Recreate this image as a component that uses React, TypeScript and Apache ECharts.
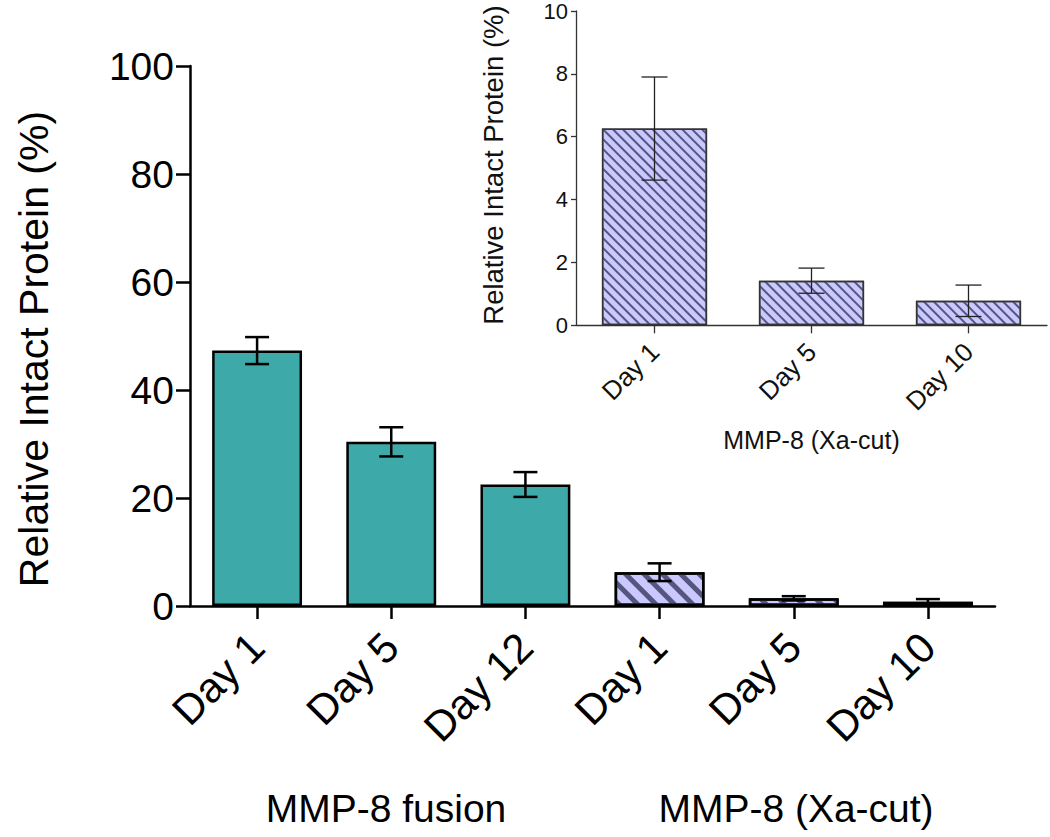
import React, { useEffect, useRef } from "react";
import * as echarts from "echarts";

const mainCategories = ["Day 1", "Day 5", "Day 12", "Day 1", "Day 5", "Day 10"];
const fusionValues = [47.3, 30.4, 22.5];
const fusionErrors = [2.5, 2.7, 2.3];
const xaCategories = ["Day 1", "Day 5", "Day 10"];
const xaValues = [6.26, 1.42, 0.78];
const xaErrors = [1.64, 0.4, 0.5];
const mainYTicks = { min: 0, max: 100, interval: 20 };
const insetYTicks = { min: 0, max: 10, interval: 2 };
const groupLabels = ["MMP-8 fusion", "MMP-8 (Xa-cut)"];
const yTitle = "Relative Intact Protein (%)";
const insetXTitle = "MMP-8 (Xa-cut)";

const FONT = "'Liberation Sans', Arial, Helvetica, sans-serif";
const TEAL = "#3ea9a9";
const LAV = "#c9c9ff";
const STRIPE = "#55557f";

function errorRenderer(lineWidth: number, capHalf: number, color: string) {
  return (params: any, api: any) => {
    const x = api.value(0);
    const v = api.value(1);
    const e = api.value(2);
    const top = api.coord([x, v + e]);
    const bot = api.coord([x, Math.max(0, v - e)]);
    const style = { stroke: color, lineWidth };
    return {
      type: "group",
      children: [
        { type: "line", shape: { x1: top[0], y1: top[1], x2: bot[0], y2: bot[1] }, style },
        { type: "line", shape: { x1: top[0] - capHalf, y1: top[1], x2: top[0] + capHalf, y2: top[1] }, style },
        { type: "line", shape: { x1: bot[0] - capHalf, y1: bot[1], x2: bot[0] + capHalf, y2: bot[1] }, style },
      ],
    };
  };
}

export default function App() {
  const ref = useRef<HTMLDivElement>(null);
  useEffect(() => {
    if (!ref.current) return;
    const chart = echarts.init(ref.current, null, { renderer: "svg" });

    const allValues = [...fusionValues, ...xaValues];
    const allErrors = [...fusionErrors, ...xaErrors];

    const mainBarData = allValues.map((v, i) =>
      i < fusionValues.length
        ? { value: v, itemStyle: { color: TEAL, borderColor: "#000", borderWidth: 2.5 } }
        : {
            value: v,
            itemStyle: {
              color: LAV,
              borderColor: "#000",
              borderWidth: 2.5,
              decal: {
                symbol: "rect",
                color: STRIPE,
                dashArrayX: [1, 0],
                dashArrayY: [5, 8],
                rotation: Math.PI / 4,
              },
            },
          }
    );

    const insetBarData = xaValues.map((v) => ({
      value: v,
      itemStyle: {
        color: LAV,
        borderColor: "#333",
        borderWidth: 1.5,
        decal: {
          symbol: "rect",
          color: STRIPE,
          dashArrayX: [1, 0],
          dashArrayY: [2, 4.6],
          rotation: Math.PI / 4,
        },
      },
    }));

    const mainAxisLine = { show: true, lineStyle: { color: "#000", width: 2.5 } };
    const insetAxisLine = { show: true, lineStyle: { color: "#333", width: 1.3 } };

    chart.setOption({
      animation: false,
      backgroundColor: "#fff",
      textStyle: { fontFamily: FONT },
      grid: [
        { left: 190, top: 66, width: 805, height: 540 },
        { left: 576, top: 10.8, width: 471, height: 314.5 },
      ],
      xAxis: [
        {
          type: "category",
          gridIndex: 0,
          data: mainCategories,
          axisLine: mainAxisLine,
          axisTick: { show: true, alignWithLabel: true, length: 13, lineStyle: { color: "#000", width: 2.5 } },
          axisLabel: { rotate: 45, fontSize: 42, color: "#000", margin: 34, fontFamily: FONT, interval: 0 },
        },
        {
          type: "category",
          gridIndex: 1,
          data: xaCategories,
          axisLine: insetAxisLine,
          axisTick: { show: true, alignWithLabel: true, length: 8, lineStyle: { color: "#333", width: 1.3 } },
          axisLabel: { rotate: 45, fontSize: 26, color: "#111", margin: 22, fontFamily: FONT, interval: 0 },
          name: insetXTitle,
          nameLocation: "middle",
          nameGap: 102,
          nameTextStyle: { fontSize: 25, color: "#111", fontFamily: FONT },
        },
      ],
      yAxis: [
        {
          type: "value",
          gridIndex: 0,
          ...mainYTicks,
          splitLine: { show: false },
          axisLine: mainAxisLine,
          axisTick: { show: true, length: 14, lineStyle: { color: "#000", width: 2.5 } },
          axisLabel: { fontSize: 39, color: "#000", margin: 16, fontFamily: FONT },
        },
        {
          type: "value",
          gridIndex: 1,
          ...insetYTicks,
          splitLine: { show: false },
          axisLine: insetAxisLine,
          axisTick: { show: true, length: 5, lineStyle: { color: "#333", width: 1.3 } },
          axisLabel: { fontSize: 22, color: "#111", margin: 8, fontFamily: FONT },
        },
      ],
      series: [
        {
          type: "bar",
          xAxisIndex: 0,
          yAxisIndex: 0,
          barWidth: "67%",
          data: mainBarData,
        },
        {
          type: "custom",
          xAxisIndex: 0,
          yAxisIndex: 0,
          renderItem: errorRenderer(2.5, 12, "#000"),
          data: allValues.map((v, i) => [i, v, allErrors[i]]),
          z: 5,
        },
        {
          type: "bar",
          xAxisIndex: 1,
          yAxisIndex: 1,
          barWidth: "67%",
          data: insetBarData,
        },
        {
          type: "custom",
          xAxisIndex: 1,
          yAxisIndex: 1,
          renderItem: errorRenderer(1.3, 13, "#222"),
          data: xaValues.map((v, i) => [i, v, xaErrors[i]]),
          z: 5,
        },
      ],
      graphic: [
        {
          type: "text",
          x: 34,
          y: 349,
          rotation: Math.PI / 2,
          style: {
            text: yTitle,
            fontSize: 41,
            fill: "#000",
            fontFamily: FONT,
            textAlign: "center",
            textVerticalAlign: "middle",
          },
        },
        {
          type: "text",
          x: 493,
          y: 165,
          rotation: Math.PI / 2,
          style: {
            text: yTitle,
            fontSize: 27.5,
            fill: "#111",
            fontFamily: FONT,
            textAlign: "center",
            textVerticalAlign: "middle",
          },
        },
        {
          type: "text",
          x: 386,
          y: 808,
          style: {
            text: groupLabels[0],
            fontSize: 39,
            fill: "#000",
            fontFamily: FONT,
            textAlign: "center",
            textVerticalAlign: "middle",
          },
        },
        {
          type: "text",
          x: 796,
          y: 808,
          style: {
            text: groupLabels[1],
            fontSize: 39,
            fill: "#000",
            fontFamily: FONT,
            textAlign: "center",
            textVerticalAlign: "middle",
          },
        },
      ],
    });
    return () => chart.dispose();
  }, []);
  return (
    <div
      ref={ref}
      style={{ position: "absolute", left: 0, top: 0, width: 1050, height: 837 }}
    />
  );
}
